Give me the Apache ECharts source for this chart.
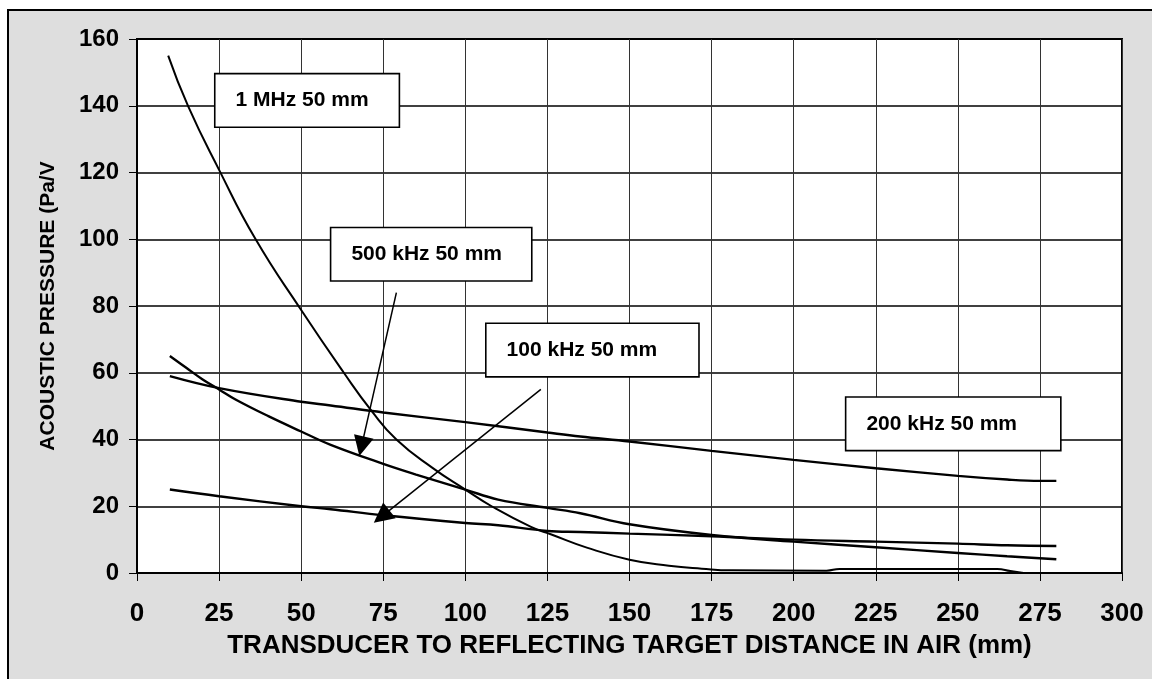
<!DOCTYPE html>
<html>
<head>
<meta charset="utf-8">
<script src="https://cdn.jsdelivr.net/npm/echarts@6/dist/echarts.min.js"></script>
<style>
html,body{margin:0;padding:0;background:#fff;}
#c{width:1152px;height:679px;}
</style>
</head>
<body>
<div id="c"></div>
<script>
// ---- data ----
const mhz1X = [9.5, 15.6, 25, 36, 50, 63, 71.5, 79, 90, 100, 108, 120, 126, 137, 150, 162, 172, 181, 210, 214, 262, 266, 270];
const mhz1Y = [155, 139.8, 120.8, 100.2, 78.8, 60, 48.5, 40, 31.5, 25, 20, 13.8, 11.6, 7.6, 4, 2.2, 1.3, 0.8, 0.7, 1.2, 1.2, 0.6, 0];

const k500X = [10, 15, 20, 25, 30, 40, 50, 59, 75, 85, 100, 110, 125, 135, 150, 175, 200, 225, 250, 265, 280];
const k500Y = [65, 61.5, 58, 55, 52, 47, 42.4, 38.4, 32.7, 29.5, 25, 22, 19.5, 17.9, 14.6, 11.4, 9.4, 7.7, 6.0, 5.0, 4.1];

const k100X = [10, 25, 50, 59, 75, 100, 110, 125, 135, 150, 175, 200, 225, 250, 265, 280];
const k100Y = [25, 23, 20, 19.1, 17.3, 15, 14.3, 12.6, 12.3, 11.8, 11, 10.0, 9.4, 8.8, 8.3, 8.1];

const k200X = [10, 25, 50, 59, 75, 100, 125, 135, 150, 175, 200, 225, 250, 265, 275, 280];
const k200Y = [59, 55.4, 51.3, 50.2, 48.1, 45.2, 42.1, 40.9, 39.4, 36.6, 33.9, 31.4, 29.1, 28, 27.6, 27.6];

const seriesNames = ['1 MHz 50 mm', '500 kHz 50 mm', '100 kHz 50 mm', '200 kHz 50 mm'];
const xName = 'TRANSDUCER TO REFLECTING TARGET DISTANCE IN AIR (mm)';
const yName = 'ACOUSTIC PRESSURE (Pa/V';

// annotation anchors (data units): label box centres and arrow endpoints
const labelAt = [[51.8, 141.6], [89.6, 95.5], [138.7, 66.8], [248.6, 44.7]];
const arrow500 = [[79, 84], [68.4, 38]];
const arrow100 = [[123, 55], [74.5, 16.9]];

function zip(xs, ys) { return xs.map((x, i) => [x, ys[i]]); }

const FONT = '"Liberation Sans", Arial, sans-serif';

function boxLabel(i, padL, padR) {
  return {
    symbol: 'rect', symbolSize: 1,
    itemStyle: { color: 'rgba(0,0,0,0)' },
    label: {
      show: true, position: 'inside',
      formatter: seriesNames[i],
      color: '#000', fontFamily: FONT, fontWeight: 'bold', fontSize: 21,
      lineHeight: 24,
      backgroundColor: '#fff', borderColor: '#000', borderWidth: 1.6,
      padding: [14, padR, 14, padL]
    },
    data: [{ coord: labelAt[i] }]
  };
}

function arrowLine(pts) {
  return {
    silent: true,
    symbol: ['none', 'triangle'],
    symbolSize: [20, 20],
    lineStyle: { color: '#000', width: 1.5, type: 'solid' },
    itemStyle: { color: '#000' },
    label: { show: false },
    data: [[{ coord: pts[0] }, { coord: pts[1] }]]
  };
}

const thin = { color: '#000', width: 2 };
const thick = { color: '#000', width: 2.4 };

const chart = echarts.init(document.getElementById('c'), null, { renderer: 'canvas' });
chart.setOption({
  animation: false,
  backgroundColor: '#fff',
  graphic: [{
    type: 'rect', z: -10, silent: true,
    shape: { x: 8, y: 10, width: 1160, height: 690 },
    style: { fill: '#dedede', stroke: '#000', lineWidth: 2 }
  }],
  grid: {
    left: 137, right: 30, top: 39, bottom: 106,
    show: true, backgroundColor: '#fff', borderColor: '#000', borderWidth: 2
  },
  xAxis: {
    type: 'value', min: 0, max: 300, interval: 25,
    name: xName, nameLocation: 'middle', nameGap: 60,
    nameTextStyle: { fontFamily: FONT, fontWeight: 'bold', fontSize: 26, color: '#000' },
    axisLine: { show: true, lineStyle: { color: '#000', width: 2 } },
    axisTick: { show: true, inside: false, length: 8, lineStyle: { color: '#000', width: 1 } },
    axisLabel: { margin: 28, fontFamily: FONT, fontWeight: 'bold', fontSize: 26, color: '#000' },
    splitLine: { show: true, lineStyle: { color: '#333', width: 1 } }
  },
  yAxis: {
    type: 'value', min: 0, max: 160, interval: 20,
    name: yName, nameLocation: 'middle', nameGap: 78, nameRotate: 90,
    nameTextStyle: { fontFamily: FONT, fontWeight: 'bold', fontSize: 21, color: '#000' },
    axisLine: { show: true, lineStyle: { color: '#000', width: 2 } },
    axisTick: { show: true, inside: false, length: 8, lineStyle: { color: '#000', width: 1 } },
    axisLabel: { margin: 18, fontFamily: FONT, fontWeight: 'bold', fontSize: 24, color: '#000' },
    splitLine: { show: true, lineStyle: { color: '#000', width: 1.5 } }
  },
  series: [
    { name: seriesNames[0], type: 'line', data: zip(mhz1X, mhz1Y), showSymbol: false, smooth: 0.5,
      lineStyle: thin, markPoint: boxLabel(0, 20, 30) },
    { name: seriesNames[1], type: 'line', data: zip(k500X, k500Y), showSymbol: false, smooth: 0.4,
      lineStyle: thick, markPoint: boxLabel(1, 20, 29), markLine: arrowLine(arrow500) },
    { name: seriesNames[2], type: 'line', data: zip(k100X, k100Y), showSymbol: false, smooth: 0.4,
      lineStyle: thick, markPoint: boxLabel(2, 20, 41), markLine: arrowLine(arrow100) },
    { name: seriesNames[3], type: 'line', data: zip(k200X, k200Y), showSymbol: false, smooth: 0.4,
      lineStyle: thick, markPoint: boxLabel(3, 20, 43) }
  ]
});
</script>
</body>
</html>
